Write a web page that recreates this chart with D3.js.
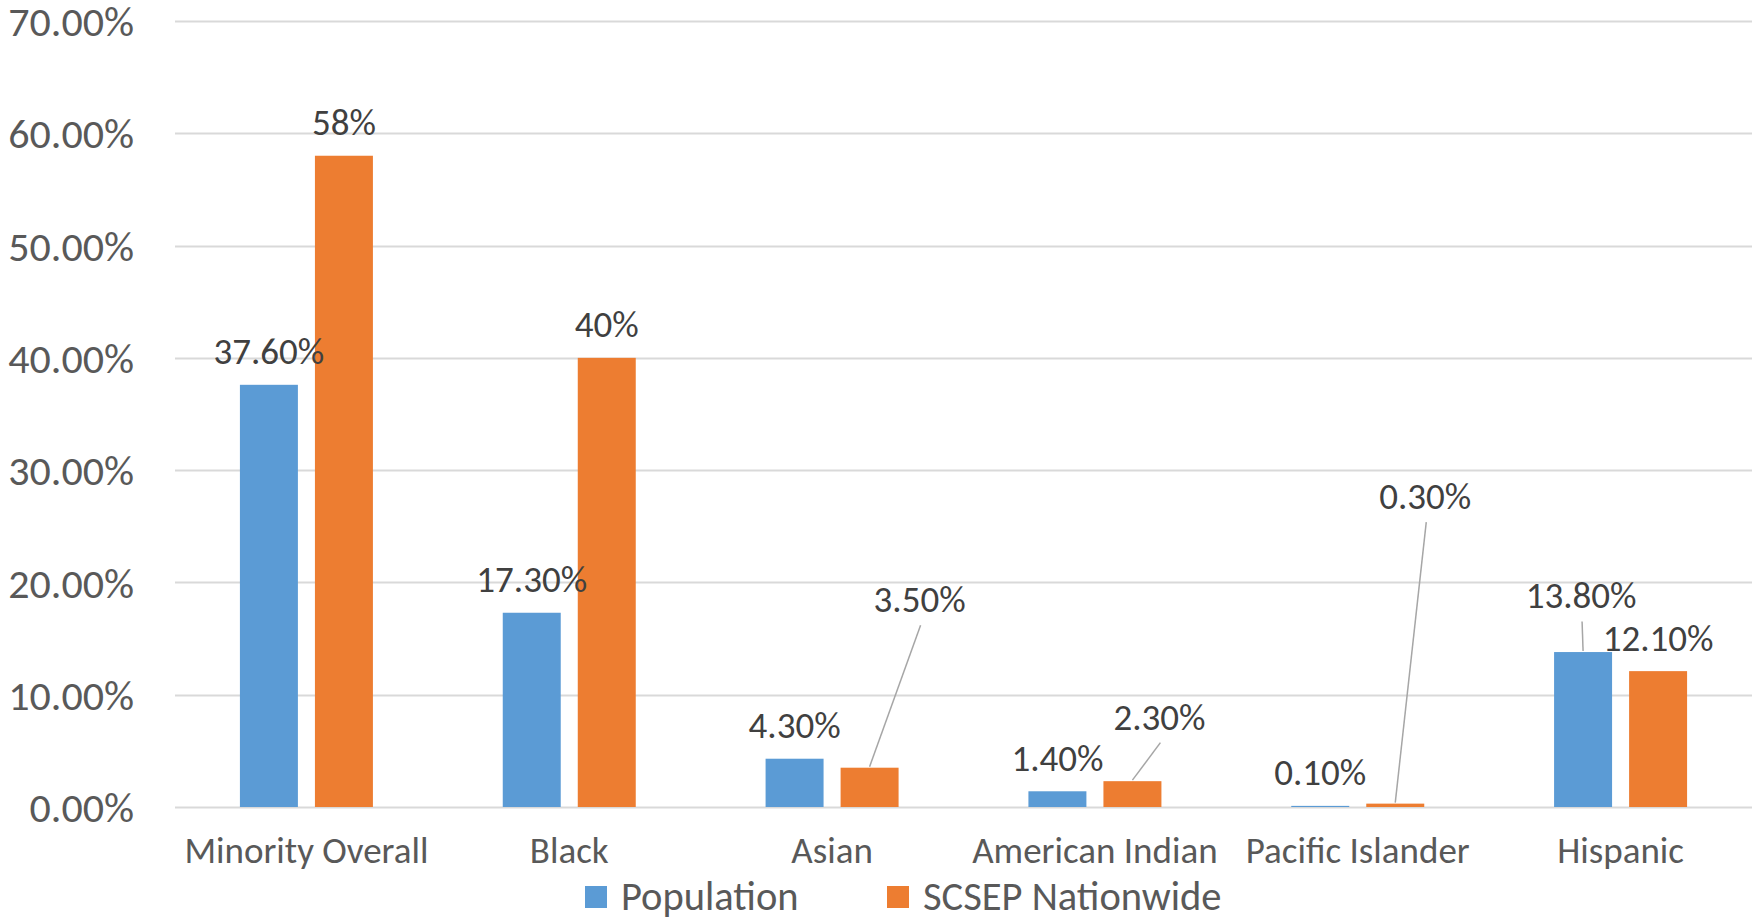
<!DOCTYPE html>
<html>
<head>
<meta charset="utf-8">
<script src="https://cdn.jsdelivr.net/npm/d3@7"></script>
<style>
  body { margin: 0; background: #fff; }
  svg { display: block; font-family: Carlito, Calibri, Lato, sans-serif; }
</style>
</head>
<body>
<svg id="chart" width="1752" height="921"></svg>
<script>
// chart values
var categories = ["Minority Overall", "Black", "Asian", "American Indian", "Pacific Islander", "Hispanic"]
var seriesNames = ["Population", "SCSEP Nationwide"]
var population = [37.6, 17.3, 4.3, 1.4, 0.1, 13.8]
var scsep = [58, 40, 3.5, 2.3, 0.3, 12.1]
var populationLabels = ["37.60%", "17.30%", "4.30%", "1.40%", "0.10%", "13.80%"]
var scsepLabels = ["58%", "40%", "3.50%", "2.30%", "0.30%", "12.10%"]
var yTicks = [0, 10, 20, 30, 40, 50, 60, 70]

var colors = ["#5b9bd5", "#ed7d31"]

// labels that were dragged off their bar in the original (dx, dy in px)
var labelMoves = {
  "Asian|1": [50, -135],
  "American Indian|1": [27, -31],
  "Pacific Islander|1": [30, -274],
  "Hispanic|0": [-2, -23]
}

var width = 1752, height = 921
var margin = {left: 175, right: 0, top: 21, bottom: 114}

var svg = d3.select("#chart")

var x0 = d3.scaleBand()
  .domain(categories)
  .range([margin.left, width - margin.right])

var x1 = d3.scaleBand()
  .domain(seriesNames)
  .range([-66.5, 66.5])
  .paddingInner(0.227)

var y = d3.scaleLinear()
  .domain([0, 70])
  .range([height - margin.bottom, margin.top])

// gridlines
svg.append("g")
  .selectAll("line")
  .data(yTicks)
  .enter().append("line")
  .attr("x1", margin.left)
  .attr("x2", width - margin.right)
  .attr("y1", function(d) { return Math.round(y(d)) + 0.5 })
  .attr("y2", function(d) { return Math.round(y(d)) + 0.5 })
  .attr("stroke", "#d9d9d9")
  .attr("stroke-width", 2)

// y axis labels
var yAxis = d3.axisLeft(y)
  .tickValues(yTicks)
  .tickSize(0)
  .tickPadding(0)
  .tickFormat(function(d) { return d3.format(".2f")(d) + "%" })

var yg = svg.append("g")
  .attr("transform", "translate(134,0)")
  .call(yAxis)
yg.select(".domain").remove()
yg.selectAll("text")
  .attr("fill", "#595959")
  .attr("font-size", 42)
  .attr("font-family", "Carlito, Calibri, Lato, sans-serif")
  .attr("dy", "0.35em")

// bars
var rows = categories.map(function(c, i) {
  return [
    {cat: c, s: 0, v: population[i], label: populationLabels[i]},
    {cat: c, s: 1, v: scsep[i], label: scsepLabels[i]}
  ]
})

var groups = svg.append("g")
  .selectAll("g")
  .data(rows)
  .enter().append("g")
  .attr("transform", function(d) { return "translate(" + (x0(d[0].cat) + x0.bandwidth() / 2) + ",0)" })

groups.selectAll("rect")
  .data(function(d) { return d })
  .enter().append("rect")
  .attr("x", function(d) { return x1(seriesNames[d.s]) })
  .attr("width", x1.bandwidth())
  .attr("y", function(d) { return y(d.v) })
  .attr("height", function(d) { return y(0) - y(d.v) })
  .attr("fill", function(d) { return colors[d.s] })

// leader lines
groups.selectAll("line.leader")
  .data(function(d) { return d.filter(function(e) { return labelMoves[e.cat + "|" + e.s] }) })
  .enter().append("line")
  .attr("class", "leader")
  .attr("x1", function(d) { return x1(seriesNames[d.s]) + x1.bandwidth() / 2 + labelMoves[d.cat + "|" + d.s][0] + 1 })
  .attr("y1", function(d) { return y(d.v) - 33.5 + labelMoves[d.cat + "|" + d.s][1] + 26 })
  .attr("x2", function(d) { return x1(seriesNames[d.s]) + x1.bandwidth() / 2 })
  .attr("y2", function(d) { return y(d.v) - 1 })
  .attr("stroke", "#a6a6a6")
  .attr("stroke-width", 1.5)

// data labels
groups.selectAll("text")
  .data(function(d) { return d })
  .enter().append("text")
  .attr("x", function(d) {
    var m = labelMoves[d.cat + "|" + d.s]
    return x1(seriesNames[d.s]) + x1.bandwidth() / 2 + (m ? m[0] : 0)
  })
  .attr("y", function(d) {
    var m = labelMoves[d.cat + "|" + d.s]
    return y(d.v) - 33.5 + (m ? m[1] : 0)
  })
  .attr("dy", "0.35em")
  .attr("text-anchor", "middle")
  .attr("font-size", 37)
  .attr("fill", "#404040")
  .text(function(d) { return d.label })

// category labels
var xAxis = d3.axisBottom(x0).tickSize(0).tickPadding(0)
var xg = svg.append("g")
  .attr("transform", "translate(0,850)")
  .call(xAxis)
xg.select(".domain").remove()
xg.selectAll("text")
  .attr("fill", "#595959")
  .attr("font-size", 37)
  .attr("font-family", "Carlito, Calibri, Lato, sans-serif")
  .attr("dy", "0.35em")

// legend
var legendX = [585, 887]
var legend = svg.append("g")
  .selectAll("g")
  .data(seriesNames)
  .enter().append("g")
  .attr("transform", function(d, i) { return "translate(" + legendX[i] + ",897)" })

legend.append("rect")
  .attr("x", 0)
  .attr("y", -11)
  .attr("width", 22)
  .attr("height", 22)
  .attr("fill", function(d, i) { return colors[i] })

legend.append("text")
  .attr("x", 36)
  .attr("dy", "0.33em")
  .attr("font-size", 40.5)
  .attr("fill", "#595959")
  .text(function(d) { return d })
</script>
</body>
</html>
